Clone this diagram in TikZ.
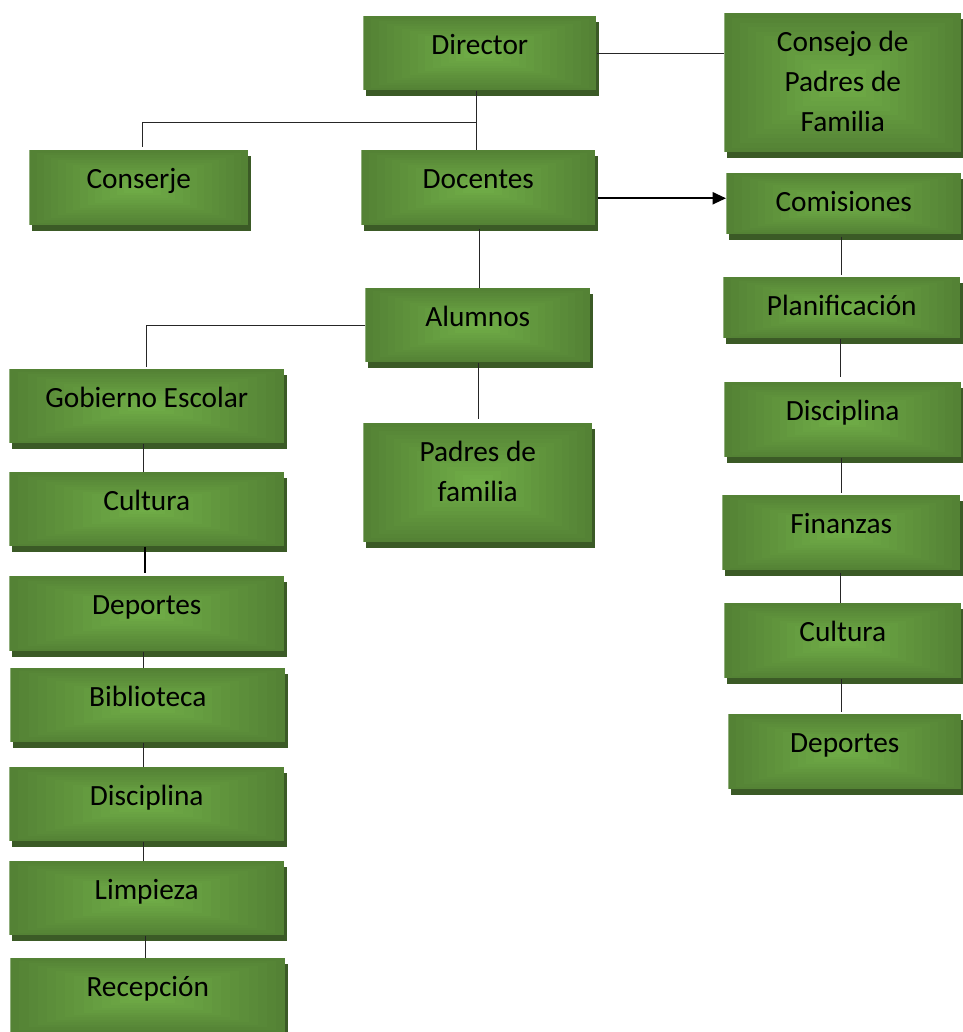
\documentclass[tikz,border=0pt]{standalone}
\usepackage{fontspec}
\setmainfont{Carlito}
\usetikzlibrary{calc,shadows,arrows.meta}
\definecolor{gout}{HTML}{548235}
\definecolor{gin}{HTML}{70AD47}
\definecolor{gshadow}{HTML}{3B5A26}
\definecolor{lineC}{HTML}{262626}
\tikzset{
  boxbase/.style={rectangle, anchor=north west, inner xsep=3.75pt, inner ysep=0pt,
    text height=29pt, align=flush center, text=black,
    font=\fontsize{22}{30}\selectfont,
    general shadow={fill=gshadow, shadow xshift=1.9pt, shadow yshift=-4.6pt},
    path picture={
      \foreach \i in {0,...,14}{
        \pgfmathsetmacro\f{0.5*\i/15}
        \pgfmathtruncatemacro\p{100*\i/14}
        \fill[gin!\p!gout] ($(path picture bounding box.south west)!\f!(path picture bounding box.north east)$) rectangle ($(path picture bounding box.north east)!\f!(path picture bounding box.south west)$);
      }
    }},
  gbox/.code 2 args={%
    \pgfmathsetlengthmacro\gw{(#1-10)*0.75pt}%
    \pgfmathsetlengthmacro\gd{#2*0.75pt-29pt}%
    \edef\gtmp{\noexpand\tikzset{boxbase, text width=\gw, text depth=\gd}}\gtmp},
  conn/.style={draw=lineC, line width=0.9pt},
  thickconn/.style={draw=black, line width=1.5pt},
  arr/.style={draw=black, line width=1.5pt, -{Triangle[length=10pt,width=9pt]}}
}
\begin{document}
\begin{tikzpicture}[x=0.75pt,y=-0.75pt]
\useasboundingbox (0,0) rectangle (963,1032);
% top
\node[gbox={233}{74}] (dir) at (363,16) {Director};
\node[gbox={237}{139}] (cons) at (724,13) {Consejo de\\Padres de\\Familia};
\node[gbox={219}{75}] (conj) at (29,150) {Conserje};
\node[gbox={234}{75}] (doc) at (361,150) {Docentes};
\node[gbox={225}{74}] (alu) at (365,288) {Alumnos};
\node[gbox={229}{119}] (pad) at (363,423) {Padres de\\familia};
% right column
\node[gbox={235}{61}] (com) at (726,173) {Comisiones};
\node[gbox={237}{61}] (plan) at (723,277) {Planificación};
\node[gbox={237}{75}] (discR) at (724,382) {Disciplina};
\node[gbox={238}{75}] (fin) at (722,495) {Finanzas};
\node[gbox={237}{75}] (cultR) at (724,603) {Cultura};
\node[gbox={233}{75}] (depR) at (728,714) {Deportes};
% left column
\node[gbox={275}{74}] (gob) at (9,369) {Gobierno Escolar};
\node[gbox={275}{74}] (cultL) at (9,472) {Cultura};
\node[gbox={275}{75}] (depL) at (9,576) {Deportes};
\node[gbox={275}{74}] (bib) at (10,668) {Biblioteca};
\node[gbox={275}{74}] (discL) at (9,767) {Disciplina};
\node[gbox={275}{74}] (limp) at (9,861) {Limpieza};
\node[gbox={275}{74}] (rec) at (10,958) {Recepción};
% connectors
\draw[conn] (dir.east) -- (dir.east -| cons.west);
\draw[conn] ($(dir.south)+(-3.5,0)$) coordinate (trA) -- (trA |- doc.north);
\draw[conn] ($(dir.south)+(-3.5,32)$) -| ($(conj.north)+(3.5,-3)$);
\draw[arr] ($(doc.east)+(2,10.5)$) coordinate (arS) -- (arS -| com.west);
\draw[conn] ($(doc.south)+(1,3)$) coordinate (daS) -- (daS |- alu.north);
\draw[conn] (alu.west) -| ($(gob.north)+(0,-2)$);
\draw[conn] ($(alu.south)+(1,0)$) coordinate (apS) -- ($(apS |- pad.north)+(0,-4)$);
% right chain
\draw[conn] ($(com.south)+(-2,2)$) coordinate (r1) -- ($(r1 |- plan.north)+(0,-2)$);
\draw[conn] ($(plan.south)+(-1.5,0)$) coordinate (r2) -- ($(r2 |- discR.north)+(0,-5)$);
\draw[conn] ($(discR.south)+(-1.5,0)$) coordinate (r3) -- ($(r3 |- fin.north)+(0,-2)$);
\draw[conn] ($(fin.south)+(-1,2)$) coordinate (r4) -- (r4 |- cultR.north);
\draw[conn] ($(cultR.south)+(-1.5,0)$) coordinate (r5) -- ($(r5 |- depR.north)+(0,-2)$);
% left chain
\draw[conn] ($(gob.south)+(-3,0)$) coordinate (l1) -- (l1 |- cultL.north);
\draw[thickconn] ($(cultL.south)+(-1.5,0)$) coordinate (l2) -- ($(l2 |- depL.north)+(0,-3)$);
\draw[conn] ($(depL.south)+(-3,0)$) coordinate (l3) -- (l3 |- bib.north);
\draw[conn] ($(bib.south)+(-4,0)$) coordinate (l4) -- (l4 |- discL.north);
\draw[conn] ($(discL.south)+(-3,0)$) coordinate (l5) -- (l5 |- limp.north);
\draw[conn] ($(limp.south)+(-1.5,0)$) coordinate (l6) -- (l6 |- rec.north);
\end{tikzpicture}
\end{document}
